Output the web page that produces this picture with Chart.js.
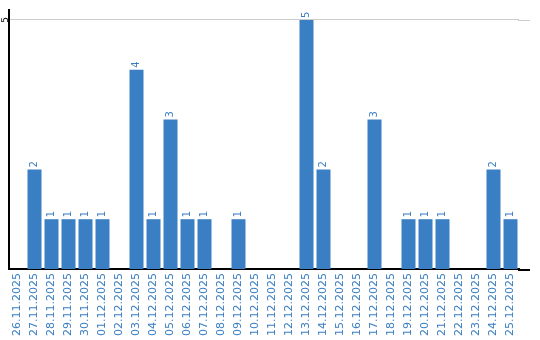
<!DOCTYPE html>
<html>
<head>
<meta charset="utf-8">
<script src="https://cdn.jsdelivr.net/npm/chart.js@4/dist/chart.umd.min.js"></script>
<style>
  html, body { margin: 0; padding: 0; background: #fff; }
  #wrap { width: 540px; height: 340px; }
</style>
</head>
<body>
<div id="wrap"><canvas id="dayChart"></canvas></div>
<script>
const days = ['26.11.2025', '27.11.2025', '28.11.2025', '29.11.2025', '30.11.2025',
  '01.12.2025', '02.12.2025', '03.12.2025', '04.12.2025', '05.12.2025',
  '06.12.2025', '07.12.2025', '08.12.2025', '09.12.2025', '10.12.2025',
  '11.12.2025', '12.12.2025', '13.12.2025', '14.12.2025', '15.12.2025',
  '16.12.2025', '17.12.2025', '18.12.2025', '19.12.2025', '20.12.2025',
  '21.12.2025', '22.12.2025', '23.12.2025', '24.12.2025', '25.12.2025'];
const counts = [0, 2, 1, 1, 1, 1, 0, 4, 1, 3, 1, 1, 0, 1, 0, 0, 0, 5, 2, 0, 0, 3, 0, 1, 1, 1, 0, 0, 2, 1];
const yTicks = [5];

const blue = '#3a7ec3';
const font = 'DejaVu Sans';
const axisEnd = 530; // x axis + gridline run a bit past the last category

// value labels above bars, rotated y tick, axis extension
const rotatedText = {
  id: 'rotatedText',
  beforeDatasetsDraw(chart) {
    const ctx = chart.ctx;
    const a = chart.chartArea;
    const y = chart.scales.y;
    ctx.save();
    ctx.lineWidth = 1;
    ctx.strokeStyle = '#cccccc';
    yTicks.forEach(v => {
      const py = Math.round(y.getPixelForValue(v)) + 0.5;
      ctx.beginPath();
      ctx.moveTo(a.right - 1, py);
      ctx.lineTo(axisEnd, py);
      ctx.stroke();
    });
    ctx.lineWidth = 2;
    ctx.strokeStyle = '#000';
    ctx.beginPath();
    ctx.moveTo(a.right - 1, y.getPixelForValue(0) + 1);
    ctx.lineTo(axisEnd, y.getPixelForValue(0) + 1);
    ctx.stroke();
    ctx.restore();
  },
  afterDraw(chart) {
    const ctx = chart.ctx;
    ctx.save();
    ctx.font = '10px ' + font;
    ctx.fillStyle = blue;
    ctx.textAlign = 'left';
    ctx.textBaseline = 'middle';
    chart.getDatasetMeta(0).data.forEach((bar, i) => {
      if (!counts[i]) return;
      ctx.save();
      ctx.translate(bar.x, bar.y - 2);
      ctx.rotate(-Math.PI / 2);
      ctx.fillText(String(counts[i]), 0, 0);
      ctx.restore();
    });
    const y = chart.scales.y;
    ctx.fillStyle = '#000';
    ctx.font = '9px ' + font;
    ctx.textAlign = 'center';
    ctx.textBaseline = 'middle';
    yTicks.forEach(v => {
      ctx.save();
      ctx.translate(chart.chartArea.left - 3, y.getPixelForValue(v));
      ctx.rotate(-Math.PI / 2);
      ctx.fillText(String(v), 0, 0);
      ctx.restore();
    });
    ctx.restore();
  }
};

new Chart(document.getElementById('dayChart'), {
  type: 'bar',
  data: {
    labels: days,
    datasets: [{
      data: counts,
      backgroundColor: blue,
      barPercentage: 14 / 17,
      categoryPercentage: 1
    }]
  },
  options: {
    responsive: true,
    maintainAspectRatio: false,
    animation: false,
    layout: { padding: { left: 9, top: 10, right: 21, bottom: 0 } },
    plugins: { legend: { display: false }, tooltip: { enabled: false } },
    scales: {
      x: {
        grid: { display: false, drawTicks: false },
        border: { display: true, color: '#000', width: 2 },
        ticks: {
          color: blue,
          font: { family: font, size: 11 },
          minRotation: 90,
          maxRotation: 90,
          autoSkip: false,
          padding: 4
        }
      },
      y: {
        min: 0,
        max: 5.2,
        afterBuildTicks: s => { s.ticks = yTicks.map(v => ({ value: v })); },
        grid: { color: '#cccccc', drawTicks: false },
        border: { display: true, color: '#000', width: 2 },
        ticks: { display: false }
      }
    }
  },
  plugins: [rotatedText]
});
</script>
</body>
</html>
